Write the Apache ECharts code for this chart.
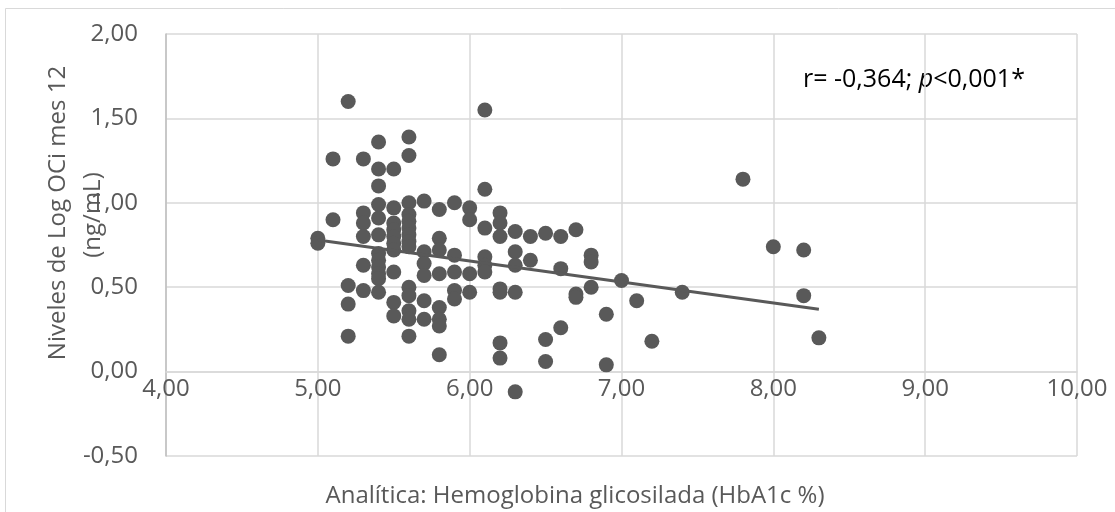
<!DOCTYPE html>
<html>
<head>
<meta charset="utf-8">
<script src="https://cdn.jsdelivr.net/npm/echarts@6/dist/echarts.min.js"></script>
<style>html,body{margin:0;padding:0;background:#fff;}#c{width:1115px;height:512px;}</style>
</head>
<body>
<div id="c"></div>
<script>
// HbA1c (%) values and Log OCi month 12 values, one entry per point
const hba1c = [
  5.0,5.0,
  5.1,5.1,
  5.2,5.2,5.2,5.2,
  5.3,5.3,5.3,5.3,5.3,5.3,
  5.4,5.4,5.4,5.4,5.4,5.4,5.4,5.4,5.4,5.4,5.4,5.4,
  5.5,5.5,5.5,5.5,5.5,5.5,5.5,5.5,5.5,5.5,
  5.6,5.6,5.6,5.6,5.6,5.6,5.6,5.6,5.6,5.6,5.6,5.6,5.6,5.6,
  5.7,5.7,5.7,5.7,5.7,5.7,
  5.8,5.8,5.8,5.8,5.8,5.8,5.8,5.8,
  5.9,5.9,5.9,5.9,5.9,
  6.0,6.0,6.0,6.0,
  6.1,6.1,6.1,6.1,6.1,6.1,
  6.2,6.2,6.2,6.2,6.2,6.2,6.2,
  6.3,6.3,6.3,6.3,6.3,
  6.4,6.4,
  6.5,6.5,6.5,
  6.6,6.6,6.6,
  6.7,6.7,6.7,
  6.8,6.8,6.8,
  6.9,6.9,
  7.0,
  7.1,
  7.2,
  7.4,
  7.8,
  8.0,
  8.2,8.2,
  8.3
];
const logOCi = [
  0.79,0.76,
  1.26,0.90,
  1.60,0.51,0.40,0.21,
  1.26,0.94,0.88,0.80,0.63,0.48,
  1.36,1.20,1.10,0.99,0.91,0.81,0.70,0.66,0.62,0.58,0.55,0.47,
  1.20,0.97,0.88,0.84,0.80,0.76,0.72,0.59,0.41,0.33,
  1.39,1.28,1.00,0.93,0.89,0.85,0.81,0.77,0.74,0.50,0.45,0.36,0.31,0.21,
  1.01,0.71,0.64,0.57,0.42,0.31,
  0.96,0.79,0.72,0.58,0.38,0.31,0.27,0.10,
  1.00,0.69,0.59,0.48,0.43,
  0.97,0.90,0.58,0.47,
  1.55,1.08,0.85,0.68,0.63,0.59,
  0.94,0.88,0.80,0.49,0.47,0.17,0.08,
  0.83,0.71,0.63,0.47,-0.12,
  0.80,0.66,
  0.82,0.19,0.06,
  0.80,0.61,0.26,
  0.84,0.46,0.44,
  0.69,0.65,0.50,
  0.34,0.04,
  0.54,
  0.42,
  0.18,
  0.47,
  1.14,
  0.74,
  0.72,0.45,
  0.20
];
// linear trend line end points
const trendX = [5.0, 8.3];
const trendY = [0.78, 0.37];
const xTicks = [4, 5, 6, 7, 8, 9, 10];
const yTicks = [-0.5, 0, 0.5, 1.0, 1.5, 2.0];

const fmt = v => v.toFixed(2).replace('.', ',');
const FONT = '"Open Sans", "Noto Sans", sans-serif';
const GRID = {left: 166, top: 34, right: 38, bottom: 56};
const plotH = 512 - GRID.top - GRID.bottom;
const yMin = yTicks[0], yMax = yTicks[yTicks.length - 1];
// distance from the plot bottom up to the y=0 line, so the x axis sits on zero
const zeroOffset = (0 - yMin) / (yMax - yMin) * plotH;

const chart = echarts.init(document.getElementById('c'), null, {renderer: 'canvas'});
chart.setOption({
  animation: false,
  backgroundColor: '#ffffff',
  grid: Object.assign({containLabel: false}, GRID),
  xAxis: {
    type: 'value', min: xTicks[0], max: xTicks[xTicks.length - 1], interval: 1,
    offset: -zeroOffset,
    axisLine: {show: true, onZero: false, lineStyle: {color: '#d9d9d9', width: 1.5}},
    axisTick: {show: false},
    splitLine: {show: true, lineStyle: {color: '#d9d9d9', width: 1.5}},
    axisLabel: {formatter: fmt, color: '#595959', fontSize: 24, fontFamily: FONT, margin: 6}
  },
  yAxis: {
    type: 'value', min: yMin, max: yMax, interval: 0.5,
    axisLine: {show: true, onZero: false, lineStyle: {color: '#bfbfbf', width: 1.5}},
    axisTick: {show: false},
    splitLine: {show: true, lineStyle: {color: '#d9d9d9', width: 1.5}},
    axisLabel: {formatter: fmt, color: '#595959', fontSize: 24, fontFamily: FONT, margin: 28}
  },
  series: [
    {
      type: 'scatter', symbol: 'circle', symbolSize: 15,
      itemStyle: {color: '#595959', opacity: 1},
      data: hba1c.map((x, i) => [x, logOCi[i]]),
      z: 3
    },
    {
      type: 'line', showSymbol: false, symbol: 'none',
      lineStyle: {color: '#595959', width: 3},
      data: trendX.map((x, i) => [x, trendY[i]]),
      z: 4
    }
  ],
  graphic: [
    {type: 'rect', shape: {x: 5.5, y: 8.5, width: 1200, height: 600}, style: {fill: 'none', stroke: '#d9d9d9', lineWidth: 1}, z: -10, silent: true},
    {type: 'text', x: 58, y: 213, rotation: Math.PI / 2,
      style: {text: 'Niveles de Log OCi mes 12', fill: '#595959', font: '24px ' + FONT, align: 'center', verticalAlign: 'middle'}},
    {type: 'text', x: 93, y: 215, rotation: Math.PI / 2,
      style: {text: '(ng/mL)', fill: '#595959', font: '24px ' + FONT, align: 'center', verticalAlign: 'middle'}},
    {type: 'text', x: 575, y: 496,
      style: {text: 'Analítica: Hemoglobina glicosilada (HbA1c %)', fill: '#595959', font: '24px ' + FONT, align: 'center', verticalAlign: 'middle'}},
    {type: 'text', x: 803, y: 80,
      style: {
        text: '{a|r= -0,364; }{b|p}{a|<0,001*}',
        verticalAlign: 'middle', align: 'left',
        rich: {
          a: {fontSize: 25, fontFamily: FONT, fill: '#000000', color: '#000000'},
          b: {fontSize: 25, fontFamily: FONT, fontStyle: 'italic', fill: '#000000', color: '#000000'}
        }
      }}
  ]
});
</script>
</body>
</html>
